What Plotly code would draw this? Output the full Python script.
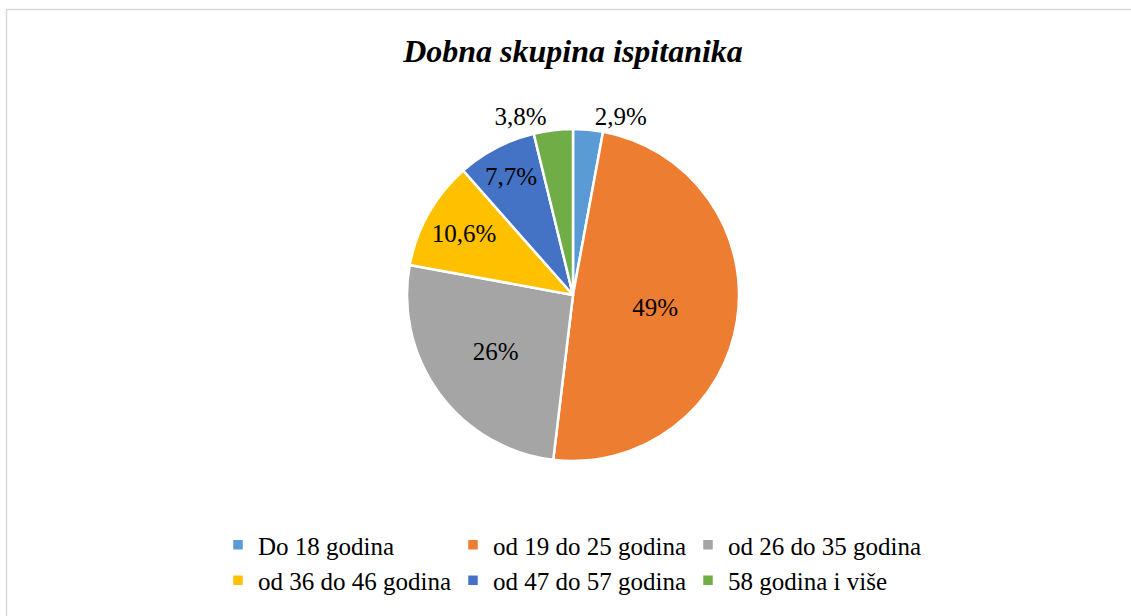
import plotly.graph_objects as go

categories = ["Do 18 godina", "od 19 do 25 godina", "od 26 do 35 godina",
              "od 36 do 46 godina", "od 47 do 57 godina", "58 godina i više"]
values = [2.9, 49, 26, 10.6, 7.7, 3.8]
colors = ["#5B9BD5", "#ED7D31", "#A5A5A5", "#FFC000", "#4472C4", "#70AD47"]
positions = ["outside", "inside", "inside", "inside", "inside", "outside"]

def fmt(v):
    s = ("%g" % v).replace(".", ",")
    return s + "%"

texts = [fmt(v) for v in values]

W, H = 1131, 616
ML, MR = 200, 200
PW = W - ML - MR
cx, cy, r = 573, 295, 166

def px(x):
    return (x - ML) / PW

def py(y):
    return 1 - y / H

fig = go.Figure(go.Pie(
    labels=categories,
    values=values,
    text=texts,
    textinfo="text",
    texttemplate="%{text}",
    textposition=positions,
    sort=False,
    direction="clockwise",
    rotation=0,
    marker=dict(colors=colors, line=dict(color="white", width=2.5)),
    textfont=dict(family="Liberation Serif", size=25, color="black"),
    insidetextorientation="horizontal",
    domain=dict(x=[px(cx - r), px(cx + r)], y=[py(cy + r), py(cy - r)]),
    hoverinfo="label+percent",
))

fig.update_layout(
    width=W, height=H,
    margin=dict(l=ML, r=MR, t=0, b=0, autoexpand=False),
    paper_bgcolor="white",
    plot_bgcolor="white",
    font=dict(family="Liberation Serif", color="black"),
    title=dict(text="Dobna skupina ispitanika", x=573 / W, xanchor="center", xref="container",
               y=1 - 51 / H, yanchor="middle", yref="container",
               font=dict(family="Liberation Serif", size=32, weight="bold", style="italic", color="black")),
    showlegend=True,
    legend=dict(orientation="h", x=px(218), xanchor="left", y=py(522), yanchor="top",
                font=dict(family="Liberation Serif", size=25, color="black"),
                entrywidth=190, entrywidthmode="pixels", itemwidth=30,
                tracegroupgap=0, traceorder="normal"),
    shapes=[dict(type="rect", xref="paper", yref="paper",
                 x0=px(6.5), x1=px(1140), y0=py(640), y1=py(9.5),
                 line=dict(color="#D9D9D9", width=1.5), fillcolor="rgba(0,0,0,0)", layer="below")],
)

fig.write_html("out.html", config={"displayModeBar": False},
               post_script="document.body.style.margin='0';")
